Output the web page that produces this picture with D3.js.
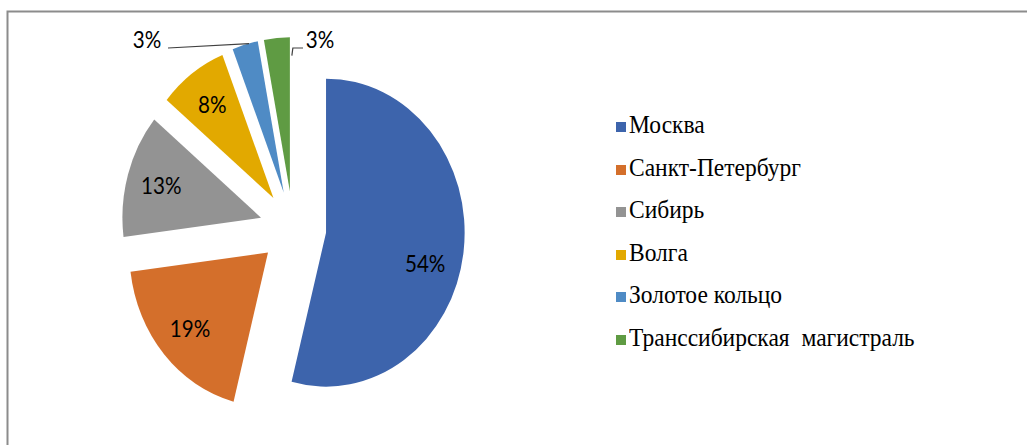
<!DOCTYPE html>
<html><head><meta charset="utf-8">
<script src="https://cdn.jsdelivr.net/npm/d3@7"></script>
<style>
body{margin:0;position:relative;width:1027px;height:445px;overflow:hidden;background:#fff}
svg{display:block;position:absolute;left:0;top:0}
#legend{position:absolute;left:616px;top:105px;}
.row{position:absolute;left:0;height:40px;white-space:pre;}
.key{position:absolute;left:0;top:17px;width:10px;height:10px;}
.lab{position:absolute;left:13px;top:0;font-family:"Liberation Serif";font-size:25px;line-height:40px;color:#000;transform-origin:0 50%;transform:scaleX(0.94);}
</style>
</head><body>
<script>
// ---- data ----
const categories = ["Москва","Санкт-Петербург","Сибирь","Волга","Золотое кольцо","Транссибирская  магистраль"];
const values = [54,19,13,8,3,3];
const valueLabels = ["54%","19%","13%","8%","3%","3%"];
const colors = ["#3D64AC","#D46F2B","#939393","#E2A900","#4F8BC5","#5F9B43"];

// ---- layout ----
const W = 1027, H = 445;
const cx = 293, cy = 228, ry = 154, sx = 0.9, explode = 37;
const svg = d3.select("body").append("svg").attr("width", W).attr("height", H);

svg.append("rect").attr("x",7.5).attr("y",11.5).attr("width",W).attr("height",H)
  .attr("fill","#fff").attr("stroke","#8c8c8c").attr("stroke-width",2);

const arcs = d3.pie().sort(null).value(d=>d)(values);
const arc = d3.arc().innerRadius(0).outerRadius(ry);
const mid = a => (a.startAngle + a.endAngle)/2;
const vertex = a => [cx + sx*explode*Math.sin(mid(a)), cy - explode*Math.cos(mid(a))];
const pt = (a, ang, r) => { const v = vertex(a); return [v[0] + sx*r*Math.sin(ang), v[1] - r*Math.cos(ang)]; };

const g = svg.append("g").attr("transform", `translate(${cx},${cy}) scale(${sx},1)`);
g.selectAll("path").data(arcs).join("path")
  .attr("d", arc)
  .attr("fill", (d,i)=>colors[i])
  .attr("transform", d=>`translate(${explode*Math.sin(mid(d))},${-explode*Math.cos(mid(d))})`);

// labels
const labelFont = '"Lato"';
const inside = arcs.slice(0,4);
const nudge = [[-4,16],[0,0],[0,0],[0,0]];
inside.forEach((a,i)=>{
  const p = pt(a, mid(a), 0.75*ry);
  svg.append("g").attr("transform", `translate(${p[0]+nudge[i][0]},${p[1]+nudge[i][1]}) scale(0.86,1)`)
    .append("text").attr("text-anchor","middle").attr("dy","0.35em")
    .style("font-family", labelFont).style("font-size","24px")
    .text(valueLabels[i]);
});
const a4 = arcs[4], a5 = arcs[5];
const s4 = pt(a4, mid(a4), ry*1.0);
const l4 = [[s4[0]+4, s4[1]-1],[168,48]];
svg.append("path").attr("d", d3.line()(l4)).attr("fill","none").attr("stroke","#404040").attr("stroke-width",1.2);
svg.append("g").attr("transform",`translate(147,40) scale(0.86,1)`)
  .append("text").attr("text-anchor","middle").attr("dy","0.35em")
  .style("font-family", labelFont).style("font-size","24px").text(valueLabels[4]);
const s5 = pt(a5, a5.endAngle, ry*0.88);
const l5 = [[s5[0]+2, s5[1]],[s5[0]+3, 48],[303,48]];
svg.append("path").attr("d", d3.line()(l5)).attr("fill","none").attr("stroke","#404040").attr("stroke-width",1.2);
svg.append("g").attr("transform",`translate(320,40) scale(0.86,1)`)
  .append("text").attr("text-anchor","middle").attr("dy","0.35em")
  .style("font-family", labelFont).style("font-size","24px").text(valueLabels[5]);

// legend (HTML)
const legend = d3.select("body").append("div").attr("id","legend");
const rows = legend.selectAll("div.row").data(categories).join("div").attr("class","row")
  .style("top",(d,i)=>`${i*42.5}px`);
rows.append("div").attr("class","key").style("background",(d,i)=>colors[i]);
rows.append("div").attr("class","lab").text(d=>d);
</script>
</body></html>
